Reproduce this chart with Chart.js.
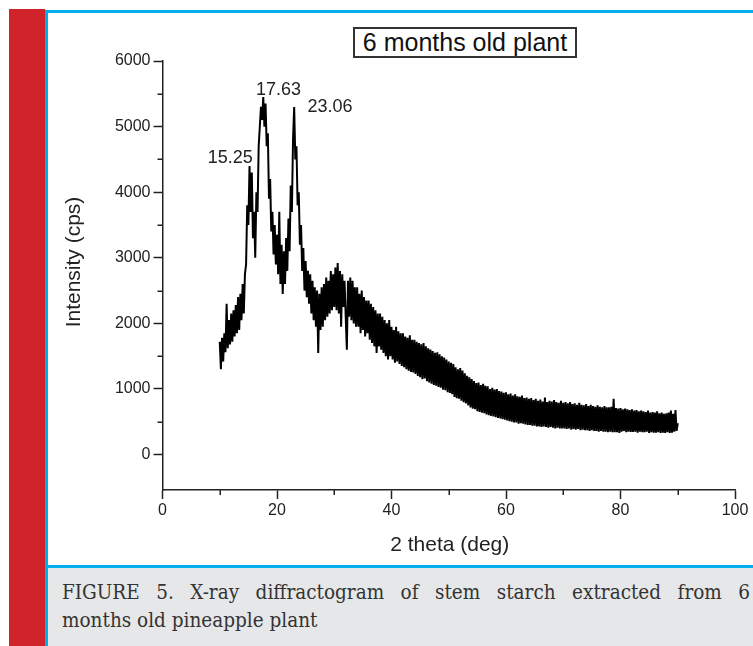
<!DOCTYPE html>
<html><head><meta charset="utf-8">
<script src="https://cdn.jsdelivr.net/npm/chart.js@4.4.1/dist/chart.umd.min.js"></script>
<style>
html,body{margin:0;padding:0;background:#fff;width:753px;height:646px;overflow:hidden;position:relative}
#red{position:absolute;left:9px;top:9px;width:36px;height:637px;background:#d1232a}
#blueV{position:absolute;left:45px;top:10px;width:3px;height:636px;background:#00aeef}
#blueT{position:absolute;left:45px;top:10px;width:708px;height:3px;background:#00aeef}
#blueB{position:absolute;left:45px;top:565px;width:708px;height:3px;background:#00aeef}
#cap{position:absolute;left:48px;top:568px;width:705px;height:78px;background:#e6e7e8}
#wrap{position:absolute;left:48px;top:13px;width:705px;height:552px}
#title{position:absolute;left:353px;top:27px;width:220px;height:27px;border:2px solid #333;font:25px "Liberation Sans",Arial,sans-serif;line-height:27px;text-align:center;color:#111;background:#fff;white-space:nowrap}
.cl{position:absolute;left:62px;width:688px;font:20.5px "DejaVu Serif Condensed","DejaVu Serif",serif;font-stretch:condensed;color:#333;white-space:nowrap}
#c1{top:580px;text-align:justify;text-align-last:justify;white-space:normal}
#c2{top:608px}
</style>
</head><body>
<div id="red"></div>
<div id="cap"></div>
<div id="blueV"></div>
<div id="blueT"></div>
<div id="blueB"></div>
<div id="wrap"><canvas id="c" width="705" height="552"></canvas></div>
<div id="title">6 months old plant</div>
<div class="cl" id="c1">FIGURE 5. X-ray diffractogram of stem starch extracted from 6</div>
<div class="cl" id="c2">months old pineapple plant</div>
<script>
// ---- data ----
const startAngle = 10;      // 2 theta of first sample (deg)
const angleStep = 0.2;      // sampling step (deg)
const intensity = [
 1720,1300,1780,1420,1850,1560,2300,1620,2050,1680,
 2150,1720,2200,1800,2280,1850,2400,1900,2450,2050,
 2600,2150,2750,2900,3800,3500,4400,3700,4300,3300,
 3700,3000,4000,3700,4700,5000,5300,5100,5450,5000,
 5350,4700,4900,3900,4200,3400,3700,3050,3500,2900,
 3350,2750,3700,2600,3200,2450,3100,2600,3300,2800,
 3600,3100,4100,3700,4800,5300,4500,4700,3800,4000,
 3200,3500,2800,3150,2500,2950,2400,2800,2300,2750,
 2150,2650,2050,2550,1950,2500,1550,2450,1900,2550,
 1950,2600,2050,2700,2100,2650,2150,2800,2200,2750,
 2250,2850,2200,2920,2150,2800,1950,2750,2250,2650,
 2100,1600,2650,2100,2700,2050,2650,2000,2550,1950,
 2550,1950,2450,1850,2500,1900,2400,1800,2350,1850,
 2350,1750,2300,1700,2250,1650,2200,1550,2150,1650,
 2150,1600,2100,1550,2050,1500,2000,1450,2050,1500,
 1950,1450,1900,1400,1950,1420,1880,1380,1850,1350,
 1850,1330,1800,1300,1780,1280,1820,1260,1750,1250,
 1750,1230,1720,1200,1700,1180,1680,1150,1700,1160,
 1650,1120,1620,1100,1600,1080,1580,1060,1550,1050,
 1560,1030,1530,1020,1500,990,1480,980,1450,950,
 1420,940,1400,920,1380,880,1330,860,1300,850,
 1320,820,1280,800,1240,780,1200,750,1180,720,
 1150,700,1120,690,1090,660,1100,650,1060,640,
 1080,630,1050,610,1040,600,1000,590,1020,580,
 990,570,1000,560,970,550,960,540,940,530,
 950,520,920,510,930,500,900,490,920,490,
 890,470,880,480,900,470,860,460,870,450,
 850,450,860,440,830,440,850,430,820,430,
 840,420,810,430,870,420,800,410,820,420,
 810,410,830,400,800,410,790,400,820,400,
 790,400,800,390,780,400,800,380,770,390,
 780,380,760,390,790,370,760,380,750,370,
 770,370,740,360,760,370,740,360,730,360,
 750,350,730,360,720,350,740,350,720,340,
 720,350,730,340,850,340,710,340,700,330,
 710,350,690,360,700,340,690,350,680,345,
 690,345,670,350,680,335,660,350,670,340,
 660,340,650,350,670,330,640,340,650,335,
 640,335,660,340,630,330,640,335,620,330,
 630,340,640,330,670,335,620,350,680,360,
 480
];
const peakAngles = [15.25, 17.63, 23.06];
const peakHeights = [4400, 5450, 5300];
const peakLabels = ['15.25', '17.63', '23.06'];
const yTickValues = [0, 500, 1000, 1500, 2000, 2500, 3000, 3500, 4000, 4500, 5000, 5500, 6000];
const xTickValues = [0, 10, 20, 30, 40, 50, 60, 70, 80, 90, 100];
const xLabelStep = 20, yLabelStep = 1000;

const points = intensity.map((v, i) => ({ x: +(startAngle + i * angleStep).toFixed(2), y: v }));

const AX = '#222';
const extras = {
  id: 'extras',
  afterDraw(chart) {
    const { ctx, chartArea: ca, scales: { x, y } } = chart;
    ctx.save();
    // minor ticks
    ctx.strokeStyle = AX; ctx.lineWidth = 1.5;
    ctx.beginPath();
    y.ticks.forEach(t => {
      if (t.value % yLabelStep !== 0) {
        const py = Math.round(y.getPixelForValue(t.value)) + 0.25;
        ctx.moveTo(ca.left - 5, py); ctx.lineTo(ca.left, py);
      }
    });
    x.ticks.forEach(t => {
      if (t.value % xLabelStep !== 0) {
        const px = Math.round(x.getPixelForValue(t.value)) + 0.25;
        ctx.moveTo(px, ca.bottom); ctx.lineTo(px, ca.bottom + 5);
      }
    });
    ctx.stroke();
    // peak labels
    ctx.fillStyle = '#222';
    ctx.font = '18px "Liberation Sans", Arial, sans-serif';
    ctx.textBaseline = 'middle';
    const offs = [[3, -8, 'right'], [15, -7, 'center'], [13, 0, 'left']];
    peakLabels.forEach((lab, i) => {
      const px = x.getPixelForValue(peakAngles[i]);
      const py = y.getPixelForValue(peakHeights[i]);
      ctx.textAlign = offs[i][2];
      ctx.fillText(lab, px + offs[i][0], py + offs[i][1]);
    });
    // axis titles
    ctx.font = '21px "Liberation Sans", Arial, sans-serif';
    ctx.textAlign = 'center';
    ctx.fillText('2 theta (deg)', (ca.left + ca.right) / 2 + 1, ca.bottom + 55);
    ctx.translate(ca.left - 88, ca.top + 201);
    ctx.rotate(-Math.PI / 2);
    ctx.fillText('Intensity (cps)', 0, 0);
    ctx.restore();
  }
};

new Chart(document.getElementById('c'), {
  type: 'scatter',
  data: { datasets: [{ data: points, showLine: true, borderColor: '#000', borderWidth: 2, pointRadius: 0, tension: 0, fill: false }] },
  options: {
    responsive: false, animation: false, devicePixelRatio: 1,
    layout: { padding: { left: 34.5, top: 48, right: 18, bottom: 35 } },
    plugins: { legend: { display: false }, tooltip: { enabled: false }, title: { display: false } },
    scales: {
      x: {
        type: 'linear', min: 0, max: 100,
        afterFit(s) { s.height = 40; },
        afterBuildTicks(s) { s.ticks = xTickValues.map(v => ({ value: v })); },
        border: { display: true, color: AX, width: 1.5 },
        grid: { display: true, drawOnChartArea: false, drawTicks: true, tickLength: 9, tickWidth: 1.5,
          tickColor: c => (c.tick && c.tick.value % xLabelStep === 0) ? AX : 'rgba(0,0,0,0)' },
        ticks: { autoSkip: false, maxRotation: 0, padding: 2, color: AX,
          font: { size: 16, family: '"Liberation Sans", Arial, sans-serif' },
          callback: v => (v % xLabelStep === 0 ? v : '') }
      },
      y: {
        type: 'linear', min: -540, max: 6000,
        afterFit(s) { s.width = 80; },
        afterBuildTicks(s) { s.ticks = yTickValues.map(v => ({ value: v })); },
        border: { display: true, color: AX, width: 1.5 },
        grid: { display: true, drawOnChartArea: false, drawTicks: true, tickLength: 9, tickWidth: 1.5,
          tickColor: c => (c.tick && c.tick.value % yLabelStep === 0) ? AX : 'rgba(0,0,0,0)' },
        ticks: { autoSkip: false, padding: 3, color: AX,
          font: { size: 16, family: '"Liberation Sans", Arial, sans-serif' },
          callback: v => (v % yLabelStep === 0 ? v : '') }
      }
    }
  },
  plugins: [extras]
});
</script>
</body></html>
